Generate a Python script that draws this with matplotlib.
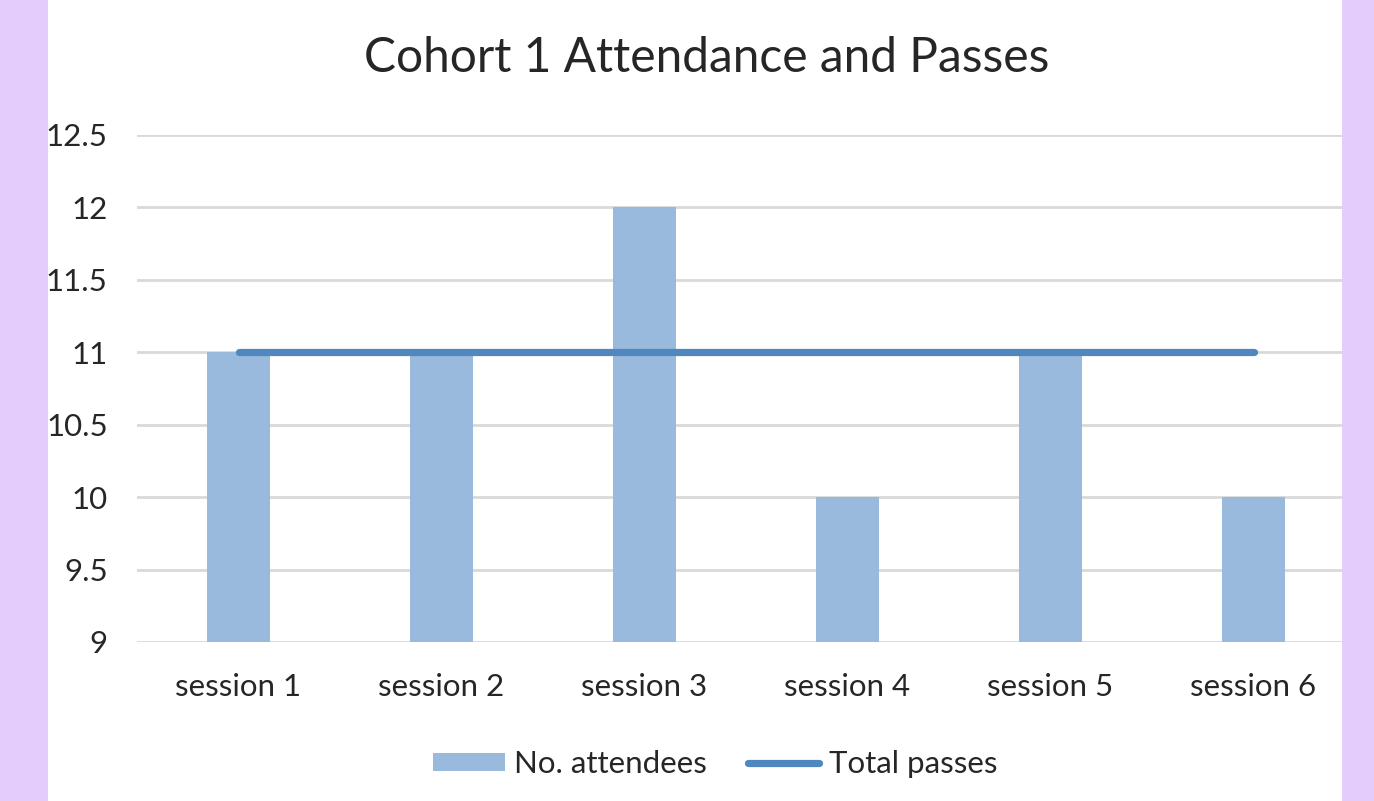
import matplotlib
matplotlib.use("Agg")
import matplotlib.pyplot as plt
from matplotlib.patches import Rectangle
from matplotlib.lines import Line2D
from matplotlib.patches import Patch

plt.rcParams['font.family'] = ['Lato', 'DejaVu Sans']

# data ---------------------------------------------------------------
sessions = ['session 1', 'session 2', 'session 3', 'session 4', 'session 5', 'session 6']
attendees = [11, 11, 12, 10, 11, 10]
passes = [11, 11, 11, 11, 11, 11]
y_ticks = [9, 9.5, 10, 10.5, 11, 11.5, 12, 12.5]
y_labels = ['9', '9.5', '10', '10.5', '11', '11.5', '12', '12.5']

bar_color = '#99BADD'
line_color = '#4F87BE'
purple = '#E4CDFC'
grid_color = '#D9D9D9'
text_color = '#262626'
# --------------------------------------------------------------------

W, H = 1374, 801
fig = plt.figure(figsize=(W / 100, H / 100), dpi=100)
fig.patch.set_facecolor('white')

ax = fig.add_axes([137 / W, 1 - 642 / H, (1355 - 137) / W, (642 - 135) / H])
x = range(len(sessions))
ax.bar(x, [a - 9 for a in attendees], bottom=9, width=0.315, color=bar_color, zorder=2)
ax.plot(x, passes, color=line_color, lw=5.2, solid_capstyle='round', zorder=3)

ax.set_xlim(-0.5, len(sessions) - 0.5)
ax.set_ylim(9, 12.5)
ax.set_yticks(y_ticks)
ax.set_yticklabels(y_labels)
ax.set_xticks(list(x))
ax.set_xticklabels(sessions)
ax.tick_params(axis='both', length=0, labelsize=22.5, colors=text_color)
ax.tick_params(axis='y', pad=21)
ax.tick_params(axis='x', pad=22)
ax.yaxis.grid(True, color=grid_color, lw=2, zorder=0)
ax.set_axisbelow(True)
for s in ax.spines.values():
    s.set_visible(False)

fig.text(707 / W, 1 - 58 / H, 'Cohort 1 Attendance and Passes', ha='center', va='center',
         fontsize=34.5, color=text_color)

handles = [Patch(facecolor=bar_color, label='No. attendees'),
           Line2D([0], [0], color=line_color, lw=5.2, solid_capstyle='round', label='Total passes')]
fig.legend(handles=handles, loc='center', bbox_to_anchor=(715 / W, 1 - 764 / H), ncol=2,
           frameon=False, fontsize=22.5, handlelength=2.3, handleheight=0.5,
           handletextpad=0.3, columnspacing=1.3, labelcolor=text_color)

# purple side bands
fig.patches.append(Rectangle((0, 0), 48 / W, 1, transform=fig.transFigure,
                             facecolor=purple, edgecolor='none', zorder=10))
fig.patches.append(Rectangle((1342 / W, 0), (W - 1342) / W, 1, transform=fig.transFigure,
                             facecolor=purple, edgecolor='none', zorder=10))

fig.savefig('out.png', dpi=100)
